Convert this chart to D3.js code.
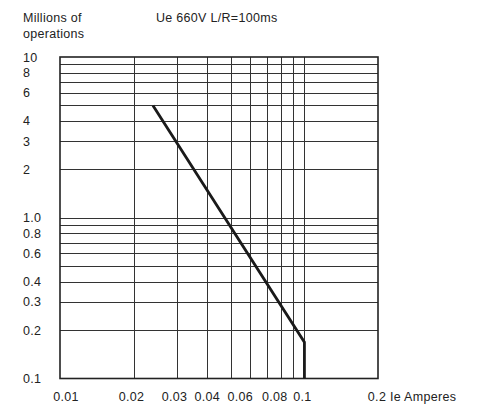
<!DOCTYPE html>
<html>
<head>
<meta charset="utf-8">
<script src="https://cdn.jsdelivr.net/npm/d3@7"></script>
<style>
  body { margin: 0; background: #fff; }
  svg text { font-family: "Liberation Sans", Arial, sans-serif; font-size: 12.5px; letter-spacing: 0.3px; fill: #222; }
</style>
</head>
<body>
<svg width="479" height="404"></svg>
<script>
// values
var xTicks = [0.01, 0.02, 0.03, 0.04, 0.06, 0.08, 0.1, 0.2];
var xTickLabels = ["0.01", "0.02", "0.03", "0.04", "0.06", "0.08", "0.1", "0.2"];
var yTicks = [10, 8, 6, 4, 3, 2, 1, 0.8, 0.6, 0.4, 0.3, 0.2, 0.1];
var yTickLabels = ["10", "8", "6", "4", "3", "2", "1.0", "0.8", "0.6", "0.4", "0.3", "0.2", "0.1"];
var xGrid = [0.02, 0.03, 0.04, 0.05, 0.06, 0.07, 0.08, 0.09, 0.1];
var yGrid = [0.2, 0.3, 0.4, 0.5, 0.6, 0.7, 0.8, 0.9, 1, 2, 3, 4, 5, 6, 7, 8, 9];
var curveCurrent = [0.024, 0.1, 0.1];
var curveOps = [5, 0.168, 0.1];

// the printed x labels sit a little off their grid lines
var xLabelNudge = [6, -2, -2, 0, -10, -6, -2, -1];

var svg = d3.select("svg");

var x = d3.scaleLog().domain([0.01, 0.2]).range([60, 378]);
var y = d3.scaleLog().domain([0.1, 10]).range([378.5, 57]);

var grid = svg.append("g").attr("stroke", "#333").attr("stroke-width", 1);

grid.selectAll("line.v")
  .data(xGrid)
  .enter().append("line")
  .attr("class", "v")
  .attr("x1", function(d) { return Math.round(x(d)) + 0.5; })
  .attr("x2", function(d) { return Math.round(x(d)) + 0.5; })
  .attr("y1", y(10))
  .attr("y2", y(0.1));

grid.selectAll("line.h")
  .data(yGrid)
  .enter().append("line")
  .attr("class", "h")
  .attr("x1", x(0.01))
  .attr("x2", x(0.2))
  .attr("y1", function(d) { return Math.round(y(d)) + 0.5; })
  .attr("y2", function(d) { return Math.round(y(d)) + 0.5; });

// frame
svg.append("rect")
  .attr("x", x(0.01))
  .attr("y", y(10))
  .attr("width", x(0.2) - x(0.01))
  .attr("height", y(0.1) - y(10))
  .attr("fill", "none")
  .attr("stroke", "#222")
  .attr("stroke-width", 1.6);

// life curve
var line = d3.line()
  .x(function(d) { return x(d[0]); })
  .y(function(d) { return y(d[1]); });

svg.append("path")
  .datum(d3.zip(curveCurrent, curveOps))
  .attr("d", line)
  .attr("fill", "none")
  .attr("stroke", "#1a1a1a")
  .attr("stroke-width", 2.8)
  .attr("stroke-linejoin", "miter");

// y tick labels, left aligned
svg.selectAll("text.ylab")
  .data(yTicks)
  .enter().append("text")
  .attr("class", "ylab")
  .attr("x", 23)
  .attr("y", function(d) { return y(d) + 4.5; })
  .text(function(d, i) { return yTickLabels[i]; });

// x tick labels
svg.selectAll("text.xlab")
  .data(xTicks)
  .enter().append("text")
  .attr("class", "xlab")
  .attr("x", function(d, i) { return x(d) + xLabelNudge[i]; })
  .attr("y", 401)
  .attr("text-anchor", "middle")
  .text(function(d, i) { return xTickLabels[i]; });

svg.append("text").attr("x", 390).attr("y", 401).text("Ie Amperes");

svg.append("text").attr("x", 23).attr("y", 22).text("Millions of");
svg.append("text").attr("x", 23).attr("y", 38).text("operations");
svg.append("text").attr("x", 156).attr("y", 22).text("Ue 660V L/R=100ms");
</script>
</body>
</html>
